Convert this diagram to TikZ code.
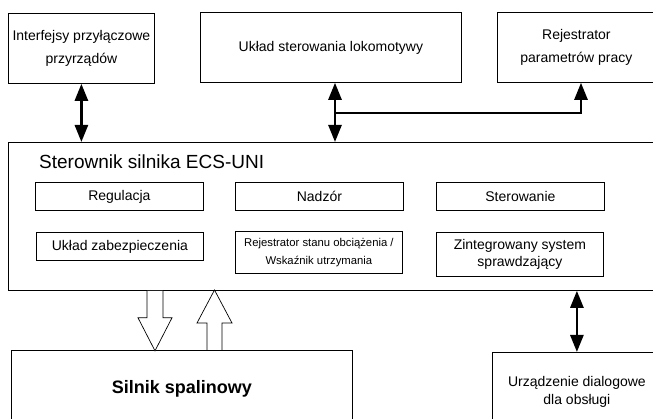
\documentclass[tikz,border=0pt]{standalone}
\usepackage{fontspec}
\setmainfont{Liberation Sans}
\usetikzlibrary{arrows.meta}
\tikzset{
    box/.style={draw, line width=0.8pt, inner sep=0pt, anchor=north west, align=center, font=\fontsize{14}{23}\selectfont},
    link/.style={line width=2.6pt, {Triangle[length=17pt,width=13pt]}-{Triangle[length=17pt,width=13pt]}},
    hollow/.style={draw, line width=0.7pt, fill=white}
}
\begin{document}
\begin{tikzpicture}[x=1pt, y=-1pt]
            \useasboundingbox (0,0) rectangle (653,419);
            % top row
            \node[box, minimum width=146pt, minimum height=70pt] (ifc) at (8,13) {Interfejsy przyłączowe\\przyrządów};
            \node[box, minimum width=261pt, minimum height=70pt] (loco) at (200,12) {Układ sterowania lokomotywy};
            \node[box, minimum width=158pt, minimum height=70pt] (rpp) at (497,12) {Rejestrator\\parametrów pracy};
            % controller
            \node[box, minimum width=652pt, minimum height=148pt] (ecs) at (8,142) {};
            \node[anchor=west, inner sep=0pt, font=\fontsize{19}{22}\selectfont] (ttl) at (39,162) {Sterownik silnika ECS-UNI};
            \foreach \x/\name/\txt in {35/reg/Regulacja, 235/nad/Nadzór, 436/ste/Sterowanie} {
                    \node[box, minimum width=168pt, minimum height=28pt] (\name) at (\x,182) {\txt};
                }
            \node[box, minimum width=167pt, minimum height=28pt] (uz) at (36,232) {Układ zabezpieczenia};
            \node[box, minimum width=167pt, minimum height=42pt, font=\fontsize{11.3}{18}\selectfont] (rso) at (235,231) {Rejestrator stanu obciążenia /\\Wskaźnik utrzymania};
            \node[box, minimum width=167pt, minimum height=44pt, font=\fontsize{14}{17}\selectfont] (zss) at (436,232) {Zintegrowany system\\sprawdzający};
            % bottom row
            \node[box, minimum width=341pt, minimum height=76pt, font=\fontsize{18}{22}\selectfont\bfseries] (sil) at (11,350) {Silnik spalinowy};
            \node[box, minimum width=169pt, minimum height=78pt, font=\fontsize{14}{18}\selectfont] (urz) at (492,352) {Urządzenie dialogowe\\dla obsługi};
            % connectors
            \draw[link] (ifc.south) -- (ifc.south |- ecs.north);
            \coordinate (j) at (335,113);
            \coordinate (k) at (581,113);
            \draw[link] (loco.south -| j) -- (ecs.north -| j);
            \draw[line width=2.6pt, -{Triangle[length=17pt,width=13pt]}] (j) -- (k) -- (k |- rpp.south);
            \draw[link] (urz.north) -- (urz.north |- ecs.south);
            \coordinate (dn) at (ecs.south -| 155,0);
            \draw[hollow] (dn) ++(-8,0) -- ++(0,27) -- ++(-9,0) -- ++(17,33) -- ++(17,-33) -- ++(-9,0) -- ++(0,-27);
            \coordinate (up) at (sil.north -| 214.5,0);
            \draw[hollow] (up) ++(-7.5,0) -- ++(0,-27) -- ++(-10,0) -- ++(17.5,-33) -- ++(17.5,33) -- ++(-10,0) -- ++(0,27);
        \end{tikzpicture}
\end{document}
